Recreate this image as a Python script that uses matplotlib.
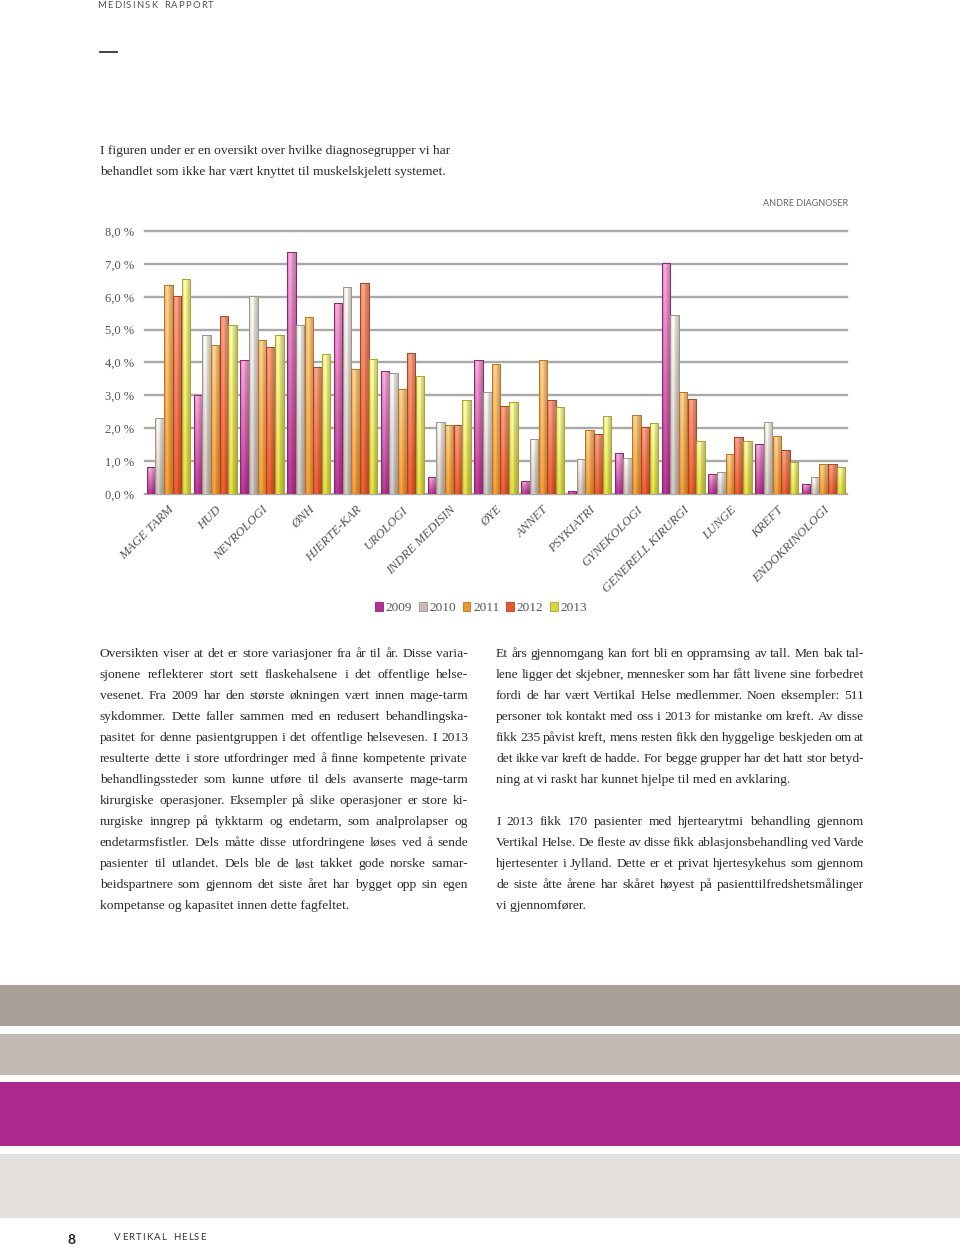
import matplotlib
matplotlib.use("Agg")
import matplotlib.pyplot as plt
import numpy as np
from matplotlib.colors import to_rgb
from matplotlib.patches import Patch
from matplotlib.lines import Line2D
from matplotlib.font_manager import FontProperties

# ---------------- data ----------------
categories = ["MAGE TARM", "HUD", "NEVROLOGI", "ØNH", "HJERTE-KAR", "UROLOGI",
              "INDRE MEDISIN", "ØYE", "ANNET", "PSYKIATRI", "GYNEKOLOGI",
              "GENERELL KIRURGI", "LUNGE", "KREFT", "ENDOKRINOLOGI"]
years = ["2009", "2010", "2011", "2012", "2013"]
v2009 = [0.81, 3.02, 4.08, 7.37, 5.82, 3.73, 0.53, 4.08, 0.40, 0.09, 1.24, 7.03, 0.62, 1.52, 0.30]
v2010 = [2.31, 4.83, 6.03, 5.15, 6.29, 3.69, 2.19, 3.09, 1.66, 1.05, 1.08, 5.46, 0.66, 2.19, 0.51]
v2011 = [6.35, 4.54, 4.67, 5.39, 3.80, 3.18, 2.11, 3.96, 4.08, 1.96, 2.41, 3.09, 1.21, 1.77, 0.90]
v2012 = [6.03, 5.42, 4.46, 3.86, 6.43, 4.29, 2.11, 2.67, 2.85, 1.81, 2.04, 2.89, 1.72, 1.34, 0.90]
v2013 = [6.54, 5.14, 4.83, 4.26, 4.12, 3.59, 2.85, 2.79, 2.65, 2.38, 2.15, 1.62, 1.62, 0.98, 0.82]
series = [v2009, v2010, v2011, v2012, v2013]
ytick_values = [0, 1, 2, 3, 4, 5, 6, 7, 8]
ytick_labels = ["0,0 %", "1,0 %", "2,0 %", "3,0 %", "4,0 %", "5,0 %", "6,0 %", "7,0 %", "8,0 %"]
chart_title = "ANDRE DIAGNOSER"

# ---------------- style ----------------
base_cols = ["#b3318e", "#c6bdb3", "#ec9632", "#e3582c", "#d8d43e"]
top_cols = ["#efa2d2", "#f3efea", "#f8c985", "#f49b7d", "#f3f39e"]
edge_cols = ["#8e2470", "#9d958c", "#c0741f", "#b8401c", "#a9a62a"]

W, H = 960, 1245
fig = plt.figure(figsize=(W / 100, H / 100), dpi=100)
fig.patch.set_facecolor("white")

SERIF = "Liberation Serif"
SANS = "Lato"

def fx(x):
    return x / W

def fy(y):
    return 1 - y / H

# ---------------- chart axes ----------------
ax_left, ax_right = 145, 847
ax_top, ax_bot = 231, 494
ax = fig.add_axes([fx(ax_left), fy(ax_bot), (ax_right - ax_left) / W, (ax_bot - ax_top) / H])
ax.set_facecolor("none")
for s in ax.spines.values():
    s.set_visible(False)
ax.set_yticks(ytick_values)
ax.set_yticklabels(ytick_labels, fontfamily=SERIF, fontsize=9, color="#555555")
ax.tick_params(axis="y", length=0, pad=8)
ax.set_axisbelow(True)
ax.yaxis.grid(True, color="#a9a9a9", linewidth=1.7)
ax.xaxis.grid(False)
for gl in ax.get_ygridlines():
    gl.set_clip_on(False)

x = np.arange(len(categories))
step = 0.186
bw = 0.18

def gradient_img(top, base):
    top = np.array(to_rgb(top))
    base = np.array(to_rgb(base))
    ny, nx = 40, 24
    t = np.linspace(0, 1, ny)[:, None, None]
    col = top * (1 - t) + base * t
    xs = np.linspace(0, 1, nx)
    shade = 0.86 + 0.22 * np.exp(-((xs - 0.35) ** 2) / 0.05) - 0.06 * (xs > 0.85)
    img = col * shade[None, :, None]
    return np.clip(img, 0, 1)

for j, vals in enumerate(series):
    bars = ax.bar(x + (j - 2) * step, vals, width=bw, color=base_cols[j],
                  edgecolor=edge_cols[j], linewidth=0.7, zorder=2)
    img = gradient_img(top_cols[j], base_cols[j])
    for b in bars:
        x0, y0 = b.get_x(), b.get_y()
        im = ax.imshow(img, extent=[x0, x0 + b.get_width(), y0, y0 + b.get_height()],
                       aspect="auto", interpolation="bilinear", zorder=2.5)
        im.set_clip_path(b)
    ax.bar(x + (j - 2) * step, vals, width=bw, color="none",
           edgecolor=edge_cols[j], linewidth=0.7, zorder=3)

ax.set_xlim(-0.5, len(categories) - 0.5)
ax.set_ylim(0, 8)
ax.set_xticks(x)
ax.set_xticklabels(categories, rotation=45, ha="right", va="top", rotation_mode="anchor",
                   fontfamily=SERIF, fontstyle="italic", fontsize=9.2, color="#555555")
ax.tick_params(axis="x", length=0, pad=7)

fig.text(fx(848), fy(204), chart_title, ha="right", va="center", fontfamily=SANS,
         fontsize=6.5, color="#666666")

# legend
handles = [Patch(facecolor=base_cols[j], edgecolor=edge_cols[j], linewidth=0.6) for j in range(5)]
fig.legend(handles, years, loc="center", bbox_to_anchor=(fx(481), fy(608)), ncol=5,
           frameon=False, handlelength=0.6, handleheight=0.6, handletextpad=0.2,
           columnspacing=0.5, prop=FontProperties(family=SERIF, size=9.5),
           labelcolor="#555555")

# ---------------- page text ----------------
renderer = fig.canvas.get_renderer()
TXT = "#2b2b2b"
BODY_FS = 9.7
body_prop = FontProperties(family=SERIF, size=BODY_FS)

def spaced(xp, yp, s, size, tracking, family, color, weight="normal"):
    prop = FontProperties(family=family, size=size, weight=weight)
    cx = xp
    for ch in s:
        if ch != " ":
            fig.text(fx(cx), fy(yp), ch, fontproperties=prop, color=color, ha="left", va="center")
        w = renderer.get_text_width_height_descent(ch if ch != " " else "n", prop, ismath=False)[0]
        if ch == " ":
            w *= 0.8
        cx += w + tracking

def paragraph(lines, x0, x1, y0, lh):
    for k, line in enumerate(lines):
        yb = y0 + k * lh
        words = line.split()
        last = k == len(lines) - 1
        if last or len(words) < 2:
            fig.text(fx(x0), fy(yb), " ".join(words), fontproperties=body_prop, color=TXT,
                     ha="left", va="baseline")
            continue
        widths = [renderer.get_text_width_height_descent(w, body_prop, ismath=False)[0] for w in words]
        gap = (x1 - x0 - sum(widths)) / (len(words) - 1)
        cx = x0
        for w, wd in zip(words, widths):
            fig.text(fx(cx), fy(yb), w, fontproperties=body_prop, color=TXT, ha="left", va="baseline")
            cx += wd + gap

spaced(97, 6, "MEDISINSK RAPPORT", 6.8, 1.2, SANS, "#555555")
fig.add_artist(Line2D([fx(100), fx(117)], [fy(52), fy(52)], color="#333333", linewidth=1.3))

intro = ["I figuren under er en oversikt over hvilke diagnosegrupper vi har",
         "behandlet som ikke har vært knyttet til muskelskjelett systemet."]
for k, l in enumerate(intro):
    fig.text(fx(100), fy(154 + 21 * k), l, fontproperties=body_prop, color=TXT, ha="left", va="baseline")

left_col = [
    "Oversikten viser at det er store variasjoner fra år til år. Disse varia-",
    "sjonene reflekterer stort sett flaskehalsene i det offentlige helse-",
    "vesenet. Fra 2009 har den største økningen vært  innen mage-tarm",
    "sykdommer. Dette faller sammen med en redusert behandlingska-",
    "pasitet for denne pasientgruppen i det offentlige helsevesen. I 2013",
    "resulterte dette i store utfordringer med å finne kompetente private",
    "behandlingssteder som kunne utføre til dels avanserte mage-tarm",
    "kirurgiske operasjoner. Eksempler på slike operasjoner er store ki-",
    "rurgiske inngrep på tykktarm og endetarm, som analprolapser og",
    "endetarmsfistler. Dels måtte disse utfordringene løses ved å sende",
    "pasienter til utlandet. Dels ble de løst takket gode norske samar-",
    "beidspartnere som gjennom det siste året har bygget opp sin egen",
    "kompetanse og kapasitet innen dette fagfeltet.",
]
right_col1 = [
    "Et års gjennomgang kan fort bli en oppramsing av tall. Men bak tal-",
    "lene ligger det skjebner, mennesker som har fått livene sine forbedret",
    "fordi de har vært Vertikal Helse medlemmer. Noen eksempler: 511",
    "personer tok kontakt med oss i 2013 for mistanke om kreft. Av disse",
    "fikk 235 påvist kreft, mens resten fikk den hyggelige beskjeden om at",
    "det ikke var kreft de hadde. For begge grupper har det hatt stor betyd-",
    "ning at vi raskt har kunnet hjelpe til med en avklaring.",
]
right_col2 = [
    "I 2013 fikk 170 pasienter med hjertearytmi behandling gjennom",
    "Vertikal Helse. De fleste av disse fikk ablasjonsbehandling ved Varde",
    "hjertesenter i Jylland. Dette er et privat hjertesykehus som gjennom",
    "de siste åtte årene har skåret høyest på pasienttilfredshetsmålinger",
    "vi gjennomfører.",
]
paragraph(left_col, 100, 468, 657, 21)
paragraph(right_col1, 496, 864, 657, 21)
paragraph(right_col2, 496, 864, 825, 21)

# ---------------- bottom bands ----------------
bands = [(985, 1026, "#a8a097"), (1034, 1075, "#c3bab4"), (1082, 1146, "#ae288e"), (1154, 1218, "#e2dfdc")]
for y0, y1, c in bands:
    fig.add_artist(plt.Rectangle((0, fy(y1)), 1, (y1 - y0) / H, transform=fig.transFigure,
                                 facecolor=c, edgecolor="none"))

fig.text(fx(67), fy(1240), "8", fontfamily=SANS, fontsize=10, fontweight="bold", color="#222222",
         ha="left", va="center")
spaced(114, 1237, "VERTIKAL HELSE", 7, 1.1, SANS, "#333333")

fig.savefig("out.png", dpi=100, facecolor="white")
